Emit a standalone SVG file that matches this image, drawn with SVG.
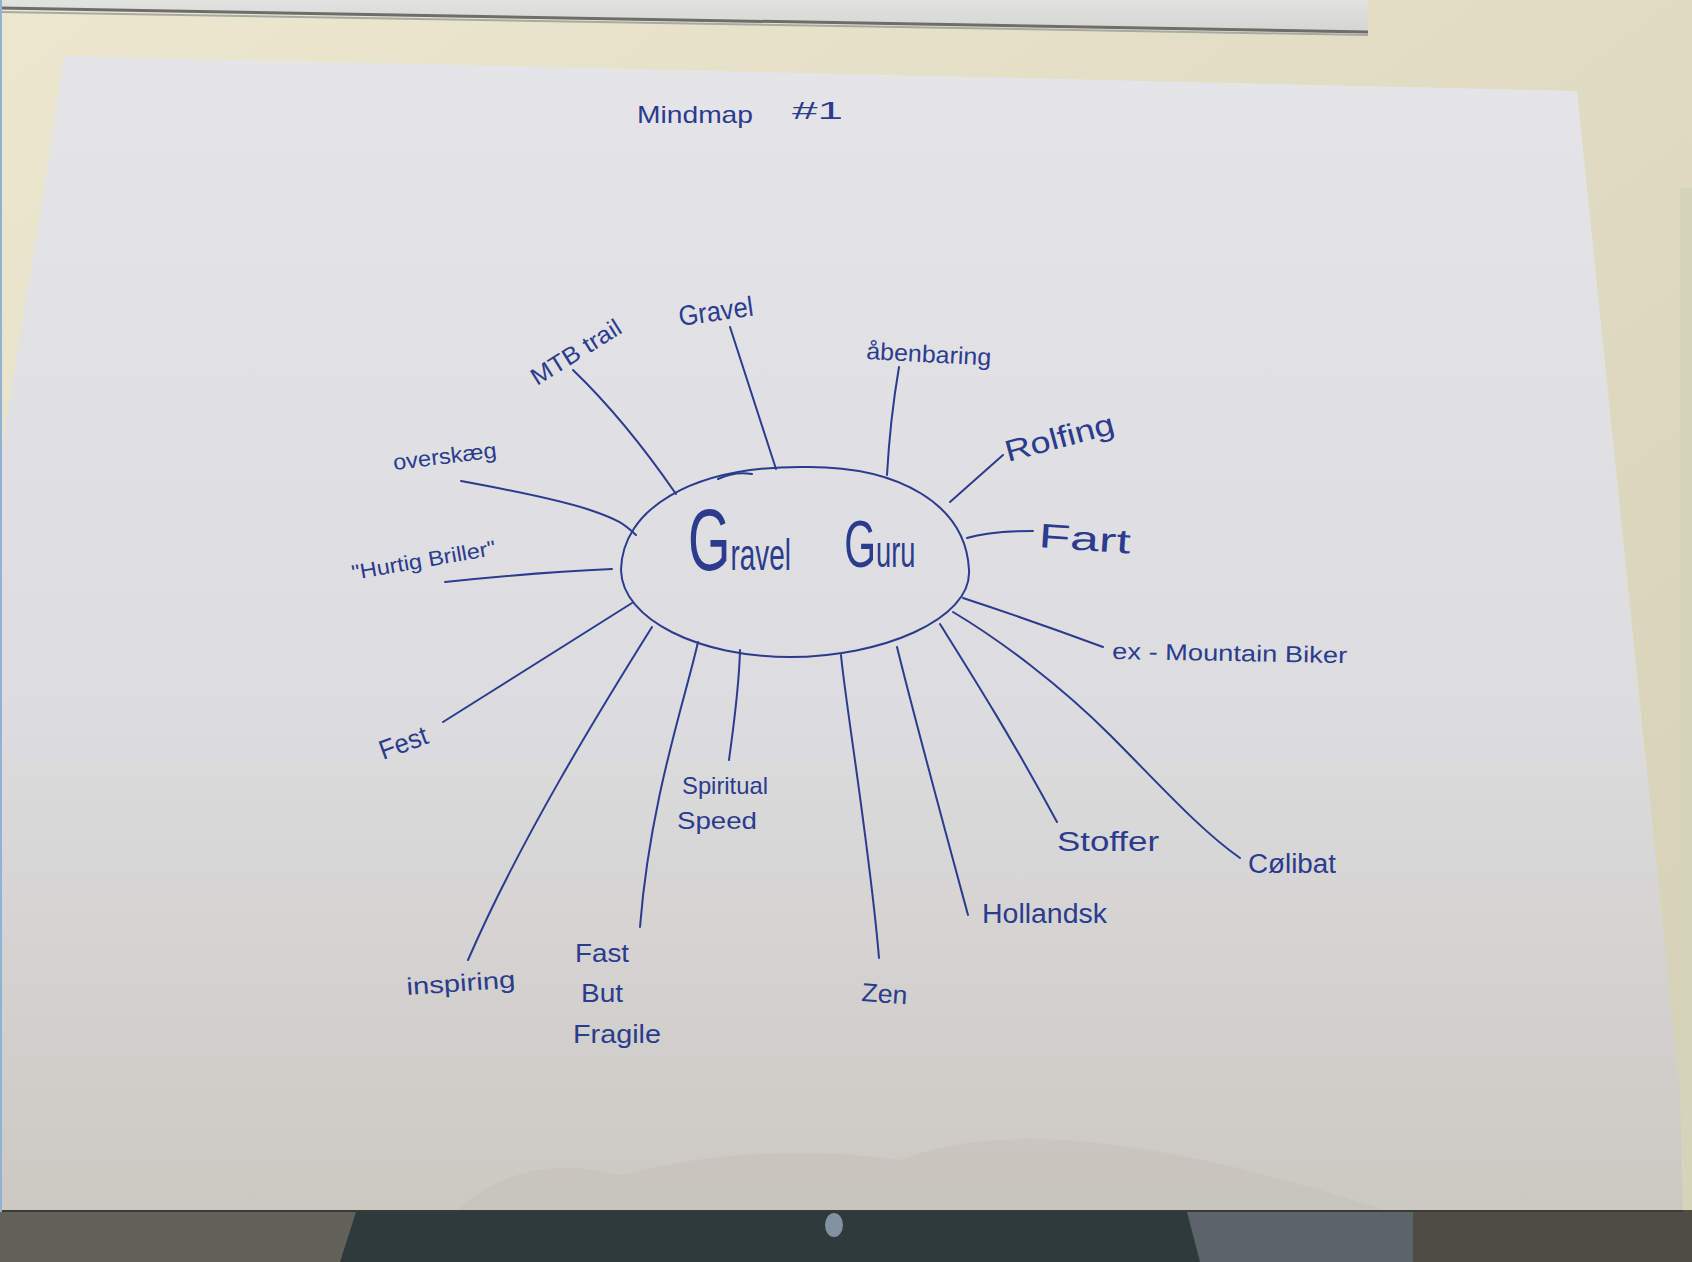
<svg xmlns="http://www.w3.org/2000/svg" width="1692" height="1262" viewBox="0 0 1692 1262">
  <defs>
    <linearGradient id="bg" x1="0" y1="0" x2="1" y2="1">
      <stop offset="0" stop-color="#ece8cf"/>
      <stop offset="1" stop-color="#d3d0b6"/>
    </linearGradient>
    <linearGradient id="paper" x1="0" y1="0" x2="0" y2="1">
      <stop offset="0" stop-color="#e5e5e9"/>
      <stop offset="0.55" stop-color="#dddde0"/>
      <stop offset="1" stop-color="#ccc9c2"/>
    </linearGradient>
    <linearGradient id="sheet" x1="0" y1="0" x2="0" y2="1">
      <stop offset="0" stop-color="#e2e2e0"/>
      <stop offset="1" stop-color="#d4d4d1"/>
    </linearGradient>
  </defs>
  <style>
    .ink { fill: none; stroke: #2b3b8e; stroke-width: 2; stroke-linecap: round; stroke-linejoin: round; }
    .lbl { font-family: "Liberation Sans", Arial, sans-serif; fill: #2b3b8e; }
  </style>

  <!-- scene -->
  <rect x="0" y="0" width="1692" height="1262" fill="url(#bg)"/>
  <rect x="1680" y="188" width="12" height="1030" fill="#d6d3bb"/>
  <polygon points="0,0 1368,0 1368,33 0,9" fill="url(#sheet)"/>
  <path d="M0 8 L1368 32" stroke="#6d6d6a" stroke-width="3" fill="none"/>
  <path d="M0 12 L1368 35" stroke="#a9a9a4" stroke-width="2" fill="none"/>
  <rect x="0" y="1210" width="1692" height="52" fill="#4d4d44"/>
  <rect x="0" y="1212" width="356" height="50" fill="#62625a"/>
  <path d="M356 1212 L1413 1212 L1413 1262 L340 1262 Z" fill="#2e3a3b"/>
  <path d="M1187 1212 L1413 1212 L1413 1262 L1200 1262 Z" fill="#5b6468"/>
  <ellipse cx="834" cy="1225" rx="9" ry="12" fill="#8392a3"/>
  <polygon points="64,56 1577,91 1680,1092 1683,1210 0,1212 0,460 20,336 43,196" fill="url(#paper)"/>
  <path d="M455 1212 Q520 1150 620 1175 Q760 1140 900 1160 Q1050 1100 1390 1212 Z" fill="#bdbab1" opacity="0.3"/>
  <path d="M0 1211 L1683 1211" stroke="#3a3a36" stroke-width="2"/>
  <rect x="0" y="0" width="2" height="1212" fill="#8fb2d6"/>

  <!-- title -->
  <g id="title">
    <text class="lbl" font-size="24"><tspan x="637" y="123" textLength="116" lengthAdjust="spacingAndGlyphs" transform="rotate(-6 637 123)">Mindmap</tspan></text>
    <text class="lbl" font-size="24" x="792" y="119" textLength="51" lengthAdjust="spacingAndGlyphs">#1</text>
  </g>

  <!-- connectors -->
  <g id="connectors" class="ink">
    <path d="M730 327 Q752 395 776 469"/>
    <path d="M573 370 Q625 420 676 494"/>
    <path d="M899 367 Q890 420 887 475"/>
    <path d="M1003 455 L950 502"/>
    <path d="M967 538 Q990 531 1033 531"/>
    <path d="M963 598 Q1030 620 1103 647"/>
    <path d="M953 612 C1000 640 1060 685 1110 735 S1200 830 1240 858"/>
    <path d="M940 624 C970 672 1010 735 1057 822"/>
    <path d="M897 647 C915 720 945 830 968 915"/>
    <path d="M841 655 C845 700 870 850 879 958"/>
    <path d="M740 650 C739 690 733 730 729 760"/>
    <path d="M698 642 C685 700 650 800 640 927"/>
    <path d="M652 627 C600 710 520 840 468 960"/>
    <path d="M632 603 L443 722"/>
    <path d="M445 582 Q540 572 612 569"/>
    <path d="M461 481 C510 490 560 500 590 510 S625 525 636 535"/>
  </g>

  <!-- central node -->
  <g id="node-center">
    <path class="ink" d="M621 570 C622 510 690 466 805 467 C900 466 966 505 969 570 C972 620 880 657 790 657 C700 657 622 620 621 570 Z"/>
    <path class="ink" d="M718 479 Q735 471 752 474" stroke-width="3"/>
    <text class="lbl" font-size="16" transform="translate(688 570) scale(0.62 1)"><tspan x="0" y="0" font-size="88">G</tspan><tspan font-size="45">ravel</tspan> <tspan x="252" y="-3" font-size="66">G</tspan><tspan font-size="44">uru</tspan></text>
  </g>

  <!-- branch nodes -->
  <g id="node-gravel"><text class="lbl" font-size="28" x="680" y="326" textLength="75" lengthAdjust="spacingAndGlyphs" transform="rotate(-8 680 326)">Gravel</text></g>
  <g id="node-mtb"><text class="lbl" font-size="24" x="537" y="386" textLength="102" lengthAdjust="spacingAndGlyphs" transform="rotate(-32 537 386)">MTB trail</text></g>
  <g id="node-aabenbaring"><text class="lbl" font-size="24" x="866" y="359" textLength="125" lengthAdjust="spacingAndGlyphs" transform="rotate(3 866 359)">åbenbaring</text></g>
  <g id="node-rolfing"><text class="lbl" font-size="30" x="1008" y="462" textLength="112" lengthAdjust="spacingAndGlyphs" transform="rotate(-15 1008 462)">Rolfing</text></g>
  <g id="node-fart"><text class="lbl" font-size="34" x="1038" y="547" textLength="92" lengthAdjust="spacingAndGlyphs" transform="rotate(4 1038 547)">Fart</text></g>
  <g id="node-exmtb"><text class="lbl" font-size="23" x="1112" y="659" textLength="235" lengthAdjust="spacingAndGlyphs" transform="rotate(1 1112 659)">ex - Mountain Biker</text></g>
  <g id="node-overskaeg"><text class="lbl" font-size="22" x="394" y="470" textLength="104" lengthAdjust="spacingAndGlyphs" transform="rotate(-7 394 470)">overskæg</text></g>
  <g id="node-hurtig"><text class="lbl" font-size="21" x="353" y="580" textLength="146" lengthAdjust="spacingAndGlyphs" transform="rotate(-10 353 580)">"Hurtig Briller"</text></g>
  <g id="node-fest"><text class="lbl" font-size="27" x="383" y="760" textLength="50" lengthAdjust="spacingAndGlyphs" transform="rotate(-20 383 760)">Fest</text></g>
  <g id="node-inspiring"><text class="lbl" font-size="24" x="407" y="995" textLength="109" lengthAdjust="spacingAndGlyphs" transform="rotate(-4 407 995)">inspiring</text></g>
  <g id="node-fastbutfragile"><text class="lbl" font-size="26"><tspan x="575" y="962" textLength="54" lengthAdjust="spacingAndGlyphs">Fast</tspan><tspan x="581" y="1002" textLength="42" lengthAdjust="spacingAndGlyphs">But</tspan><tspan x="573" y="1043" textLength="88" lengthAdjust="spacingAndGlyphs">Fragile</tspan></text></g>
  <g id="node-spiritual"><text class="lbl" font-size="24"><tspan x="682" y="794" textLength="86" lengthAdjust="spacingAndGlyphs">Spiritual</tspan><tspan x="677" y="829" textLength="80" lengthAdjust="spacingAndGlyphs">Speed</tspan></text></g>
  <g id="node-zen"><text class="lbl" font-size="26" x="861" y="1001" textLength="46" lengthAdjust="spacingAndGlyphs" transform="rotate(4 861 1001)">Zen</text></g>
  <g id="node-hollandsk"><text class="lbl" font-size="27" x="982" y="923" textLength="125" lengthAdjust="spacingAndGlyphs">Hollandsk</text></g>
  <g id="node-stoffer"><text class="lbl" font-size="27" x="1057" y="851" textLength="102" lengthAdjust="spacingAndGlyphs">Stoffer</text></g>
  <g id="node-colibat"><text class="lbl" font-size="27" x="1248" y="873" textLength="88" lengthAdjust="spacingAndGlyphs">Cølibat</text></g>
</svg>
